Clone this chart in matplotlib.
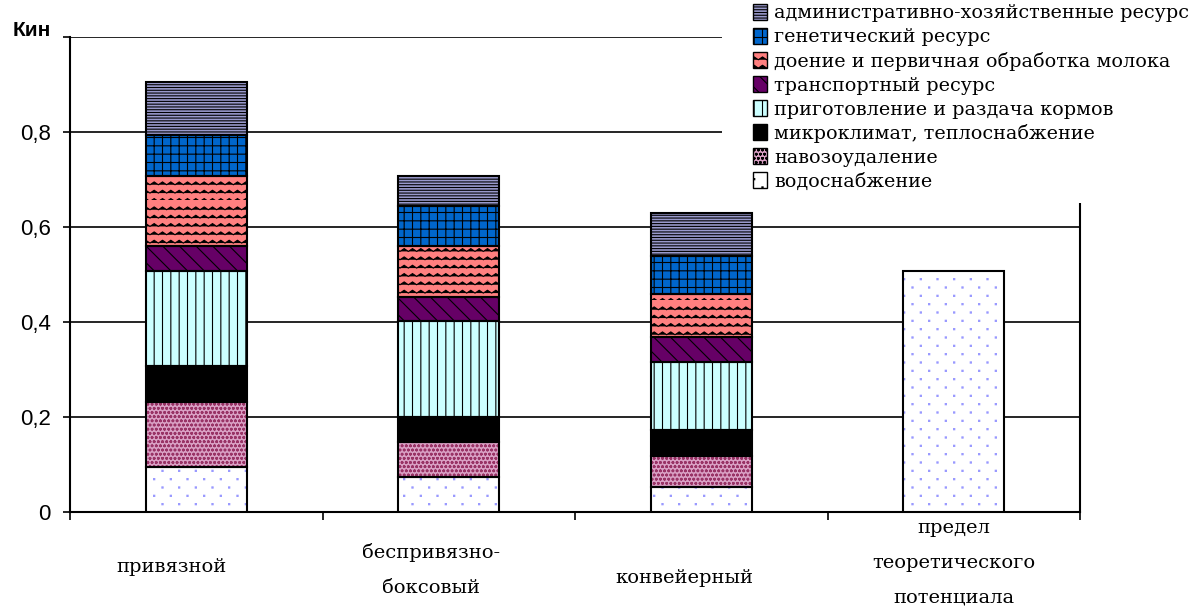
import warnings

import matplotlib
matplotlib.use("Agg")
import matplotlib.pyplot as plt
import matplotlib.patches as mpatches
import matplotlib.hatch as mhatch
import numpy as np
from matplotlib.path import Path

warnings.filterwarnings("ignore")

categories = ["привязной", "беспривязно-\nбоксовый", "конвейерный",
              "предел\nтеоретического\nпотенциала"]

# components, bottom to top
components = ["водоснабжение", "навозоудаление", "микроклимат, теплоснабжение",
              "приготовление и раздача кормов", "транспортный ресурс",
              "доение и первичная обработка молока", "генетический ресурс",
              "административно-хозяйственные ресурс"]

water = [0.094, 0.073, 0.052, 0.508]
manure = [0.138, 0.075, 0.066, 0.0]
climate = [0.075, 0.052, 0.055, 0.0]
feed = [0.200, 0.203, 0.143, 0.0]
transport = [0.053, 0.050, 0.053, 0.0]
milking = [0.147, 0.106, 0.091, 0.0]
genetic = [0.087, 0.085, 0.079, 0.0]
admin = [0.111, 0.063, 0.091, 0.0]

series = [water, manure, climate, feed, transport, milking, genetic, admin]

# (face, hatch, hatch colour)
STYLES = [
    ("#FFFFFF", "d", "#9999FF"),
    ("#D9A0C4", "oooo", "#993366"),
    ("#000000", None, "#000000"),
    ("#CCFFFF", "||", "#000000"),
    ("#660066", "\\\\", "#000000"),
    ("#FF8080", "zz", "#000000"),
    ("#0066CC", "++", "#000000"),
    ("#9999CC", "------", "#000000"),
]


class ZigzagHatch(mhatch.HatchPatternBase):
    """Wavy/zigzag horizontal lines for hatch char 'z'."""

    def __init__(self, hatch, density):
        self.num_lines = int(hatch.count("z") * density)
        self.teeth = self.num_lines
        self.num_vertices = self.num_lines * (2 * self.teeth + 1)

    def set_vertices_and_codes(self, vertices, codes):
        n = self.num_lines
        npts = 2 * self.teeth + 1
        xs = np.linspace(0, 1, npts)
        amp = 0.17 / n
        offs = np.where(np.arange(npts) % 2 == 0, -amp, amp)
        for i in range(n):
            y = i / n
            seg = slice(i * npts, (i + 1) * npts)
            vertices[seg, 0] = xs
            vertices[seg, 1] = y + offs
            codes[seg] = Path.LINETO
            codes[i * npts] = Path.MOVETO


class SparseDotHatch(mhatch.HatchPatternBase):
    """Tiny staggered dots, rows twice as dense as columns ('d')."""

    def __init__(self, hatch, density):
        self.ncols = int(hatch.count("d") * density)
        self.nrows = 2 * self.ncols
        self.num_vertices = self.ncols * self.nrows * 5

    def set_vertices_and_codes(self, vertices, codes):
        s = 0.006
        sq = np.array([[-s, -s], [s, -s], [s, s], [-s, s], [-s, -s]])
        sq_codes = [Path.MOVETO, Path.LINETO, Path.LINETO, Path.LINETO,
                    Path.CLOSEPOLY]
        k = 0
        for r in range(self.nrows):
            shift = 0.5 / self.ncols if r % 2 else 0.0
            for c in range(self.ncols):
                cx = c / self.ncols + shift + 0.25 / self.ncols
                cy = (r + 0.5) / self.nrows
                vertices[k:k + 5] = sq + [cx, cy]
                codes[k:k + 5] = sq_codes
                k += 5


mhatch._hatch_types.append(ZigzagHatch)
mhatch._hatch_types.append(SparseDotHatch)

plt.rcParams["hatch.linewidth"] = 0.8

fig = plt.figure(figsize=(11.98, 6.08), dpi=100)
ax = fig.add_axes([70 / 1198, 1 - 512 / 608, 1010 / 1198, 475 / 608])

x = np.arange(len(categories))
width = 0.4
bottom = np.zeros(len(categories))
for vals, (face, hatch, hcol) in zip(series, STYLES):
    vals = np.array(vals)
    mask = vals > 0
    ax.bar(x[mask], vals[mask], width, bottom=bottom[mask], color=face,
           hatch=hatch, edgecolor=hcol, linewidth=0, zorder=3)
    ax.bar(x[mask], vals[mask], width, bottom=bottom[mask], fill=False,
           edgecolor="black", linewidth=1.5, zorder=4)
    bottom += vals

ax.set_xlim(-0.5, 3.5)
ax.set_ylim(0, 1.0)
ax.set_yticks([0, 0.2, 0.4, 0.6, 0.8, 1.0])
ax.set_yticklabels(["0", "0,2", "0,4", "0,6", "0,8", ""],
                   fontfamily="Liberation Sans", fontsize=16)
ax.annotate("Кин", xy=(0, 1.0), xycoords="axes fraction", xytext=(-14, 5),
            textcoords="offset points", ha="right", va="center",
            fontfamily="Liberation Sans", fontsize=15, fontweight="bold")
ax.grid(axis="y", color="black", linewidth=1.2, zorder=1)
ax.tick_params(axis="y", direction="out", length=5, width=1.2, pad=9)

ax.set_xticks(np.arange(-0.5, 4.0, 1.0))
ax.set_xticklabels([])
ax.tick_params(axis="x", direction="out", length=6, width=1.2)

for side in ["left", "bottom", "right"]:
    ax.spines[side].set_linewidth(1.5)
    ax.spines[side].set_color("black")
ax.spines["top"].set_visible(False)

# category labels sit a little left of their bars, as in the source
label_y = [-0.116, -0.122, -0.139, -0.107]
label_dx = [-25, -18, -17, 0]
for xi, lab, ly, dx in zip(x, categories, label_y, label_dx):
    ax.annotate(lab, xy=(xi, ly), xycoords=ax.get_xaxis_transform(),
                xytext=(dx * 0.72, 0), textcoords="offset points",
                ha="center", va="center", fontfamily="DejaVu Serif",
                fontsize=14, linespacing=2.2)

# white area behind the legend (it hides grid and right frame there)
fig.patches.append(mpatches.Rectangle((722 / 1198, 1 - 203 / 608),
                                      476 / 1198, 203 / 608,
                                      transform=fig.transFigure,
                                      facecolor="white", edgecolor="none",
                                      zorder=5))

handles = [mpatches.Patch(facecolor=f, hatch=h, edgecolor="black", linewidth=1)
           for f, h, c in STYLES]
leg = fig.legend(handles[::-1], components[::-1], loc="upper right",
                 bbox_to_anchor=(1 - 5 / 1198, 1.0), frameon=False,
                 handlelength=0.7, handleheight=0.9, handletextpad=0.4,
                 labelspacing=0.28, borderpad=0.2, borderaxespad=0.0,
                 prop={"family": "DejaVu Serif", "size": 13.8})
leg.set_zorder(10)

fig.savefig("out.png", dpi=100)
